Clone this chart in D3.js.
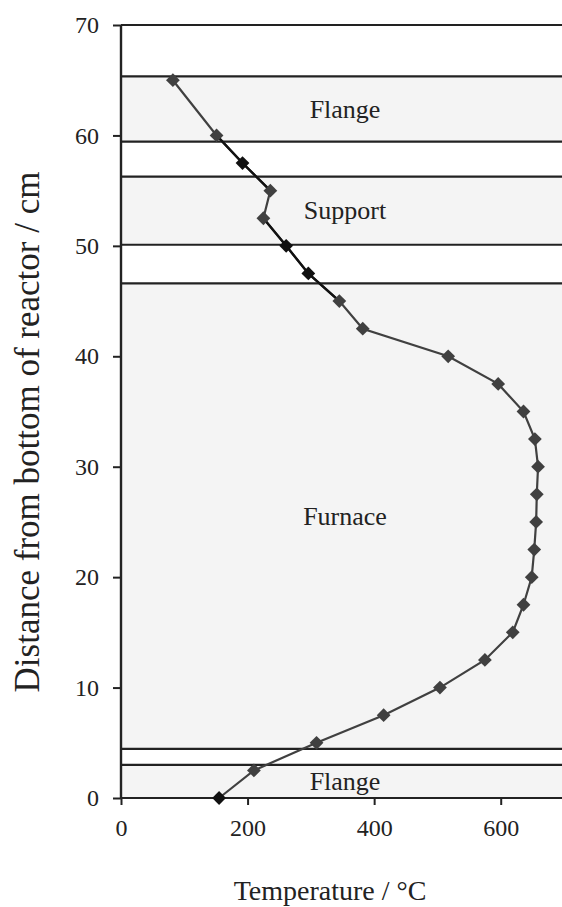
<!DOCTYPE html>
<html>
<head>
<meta charset="utf-8">
<script src="https://cdn.jsdelivr.net/npm/d3@7"></script>
<style>
  body { margin: 0; background: #fff; }
  text { font-family: "Liberation Serif", "Times New Roman", serif; fill: #222; }
</style>
</head>
<body>
<svg id="chart" width="562" height="907"></svg>
<script>
// temperature profile along the reactor
const depth = [0, 2.5, 5, 7.5, 10, 12.5, 15, 17.5, 20, 22.5, 25, 27.5, 30, 32.5, 35, 37.5, 40, 42.5, 45, 47.5, 50, 52.5, 55, 57.5, 60, 65];
const temp = [155, 210, 309, 415, 504, 575, 619, 636, 649, 653, 656, 657, 659, 654, 636, 596, 517, 382, 345, 296, 261, 225, 236, 192, 151, 82];
// points drawn in black (second thermocouple)
const blackDepths = [0, 47.5, 50, 57.5];
const blackRuns = [[60, 57.5, 55], [52.5, 50, 47.5, 45]];

// horizontal boundaries and the shaded zones between them
const boundaries = [70, 65.35, 59.44, 56.27, 50.1, 46.6, 4.45, 3.0, 0];
const zones = [
  { name: 'Flange', from: 59.44, to: 65.35 },
  { name: 'Support', from: 50.1, to: 56.27 },
  { name: 'Furnace', from: 4.45, to: 46.6 },
  { name: 'Flange', from: 0, to: 3.0 }
];
const xTicks = [0, 200, 400, 600];
const yTicks = [0, 10, 20, 30, 40, 50, 60, 70];

const svg = d3.select('#chart');
const margin = { left: 121, right: 0, top: 25, bottom: 109 };
const width = +svg.attr('width');
const height = +svg.attr('height');

const x = d3.scaleLinear().domain([0, 700]).range([margin.left, width + 2]);
const y = d3.scaleLinear().domain([0, 70]).range([height - margin.bottom, margin.top]);

// shaded zones
svg.append('g')
  .selectAll('rect')
  .data(zones)
  .enter().append('rect')
    .attr('x', x(0))
    .attr('width', width - x(0))
    .attr('y', d => y(d.to))
    .attr('height', d => y(d.from) - y(d.to))
    .attr('fill', '#f4f4f4');

// boundary lines
svg.append('g')
  .selectAll('line')
  .data(boundaries)
  .enter().append('line')
    .attr('x1', x(0))
    .attr('x2', width)
    .attr('y1', d => y(d))
    .attr('y2', d => y(d))
    .attr('stroke', '#222')
    .attr('stroke-width', 2.2);

// zone labels
svg.append('g')
  .selectAll('text')
  .data(zones)
  .enter().append('text')
    .attr('x', x(354))
    .attr('y', d => y((d.from + d.to) / 2))
    .attr('dy', '0.33em')
    .attr('text-anchor', 'middle')
    .attr('font-size', 26)
    .text(d => d.name);

// axes
const xAxis = svg.append('g')
  .attr('transform', `translate(0,${y(0)})`)
  .call(d3.axisBottom(x).tickValues(xTicks).tickSize(7).tickPadding(14).tickFormat(d3.format('d')));
const yAxis = svg.append('g')
  .attr('transform', `translate(${x(0)},0)`)
  .call(d3.axisLeft(y).tickValues(yTicks).tickSize(8).tickPadding(14));
for (const ax of [xAxis, yAxis]) {
  ax.select('.domain').remove();
  ax.selectAll('line').attr('stroke', '#222').attr('stroke-width', 2);
  ax.selectAll('text')
    .attr('font-size', 24)
    .attr('fill', '#333');
}
svg.append('line')
  .attr('x1', x(0)).attr('x2', x(0))
  .attr('y1', y(70)).attr('y2', y(0))
  .attr('stroke', '#222')
  .attr('stroke-width', 2.4);

// axis titles
svg.append('text')
  .attr('x', 330)
  .attr('y', 900)
  .attr('text-anchor', 'middle')
  .attr('font-size', 28)
  .text('Temperature / \u00B0C');
svg.append('text')
  .attr('transform', 'translate(39,432) rotate(-90)')
  .attr('text-anchor', 'middle')
  .attr('font-size', 35)
  .text('Distance from bottom of reactor  / cm');

// profile line
const points = depth.map((d, i) => ({ d: d, t: temp[i] }));
const line = d3.line().x(p => x(p.t)).y(p => y(p.d));
svg.append('path')
  .datum(points)
  .attr('fill', 'none')
  .attr('stroke', '#404040')
  .attr('stroke-width', 2.2)
  .attr('d', line);

svg.append('g')
  .selectAll('path')
  .data(blackRuns)
  .enter().append('path')
    .attr('fill', 'none')
    .attr('stroke', '#111')
    .attr('stroke-width', 2.4)
    .attr('d', run => line(run.map(d => points.find(p => p.d == d))));

const diamond = d3.symbol().type(d3.symbolSquare).size(95);
svg.append('g')
  .selectAll('path')
  .data(points)
  .enter().append('path')
    .attr('d', diamond)
    .attr('transform', p => `translate(${x(p.t)},${y(p.d)}) rotate(45)`)
    .attr('fill', p => blackDepths.includes(p.d) ? '#111' : '#404040');
</script>
</body>
</html>
